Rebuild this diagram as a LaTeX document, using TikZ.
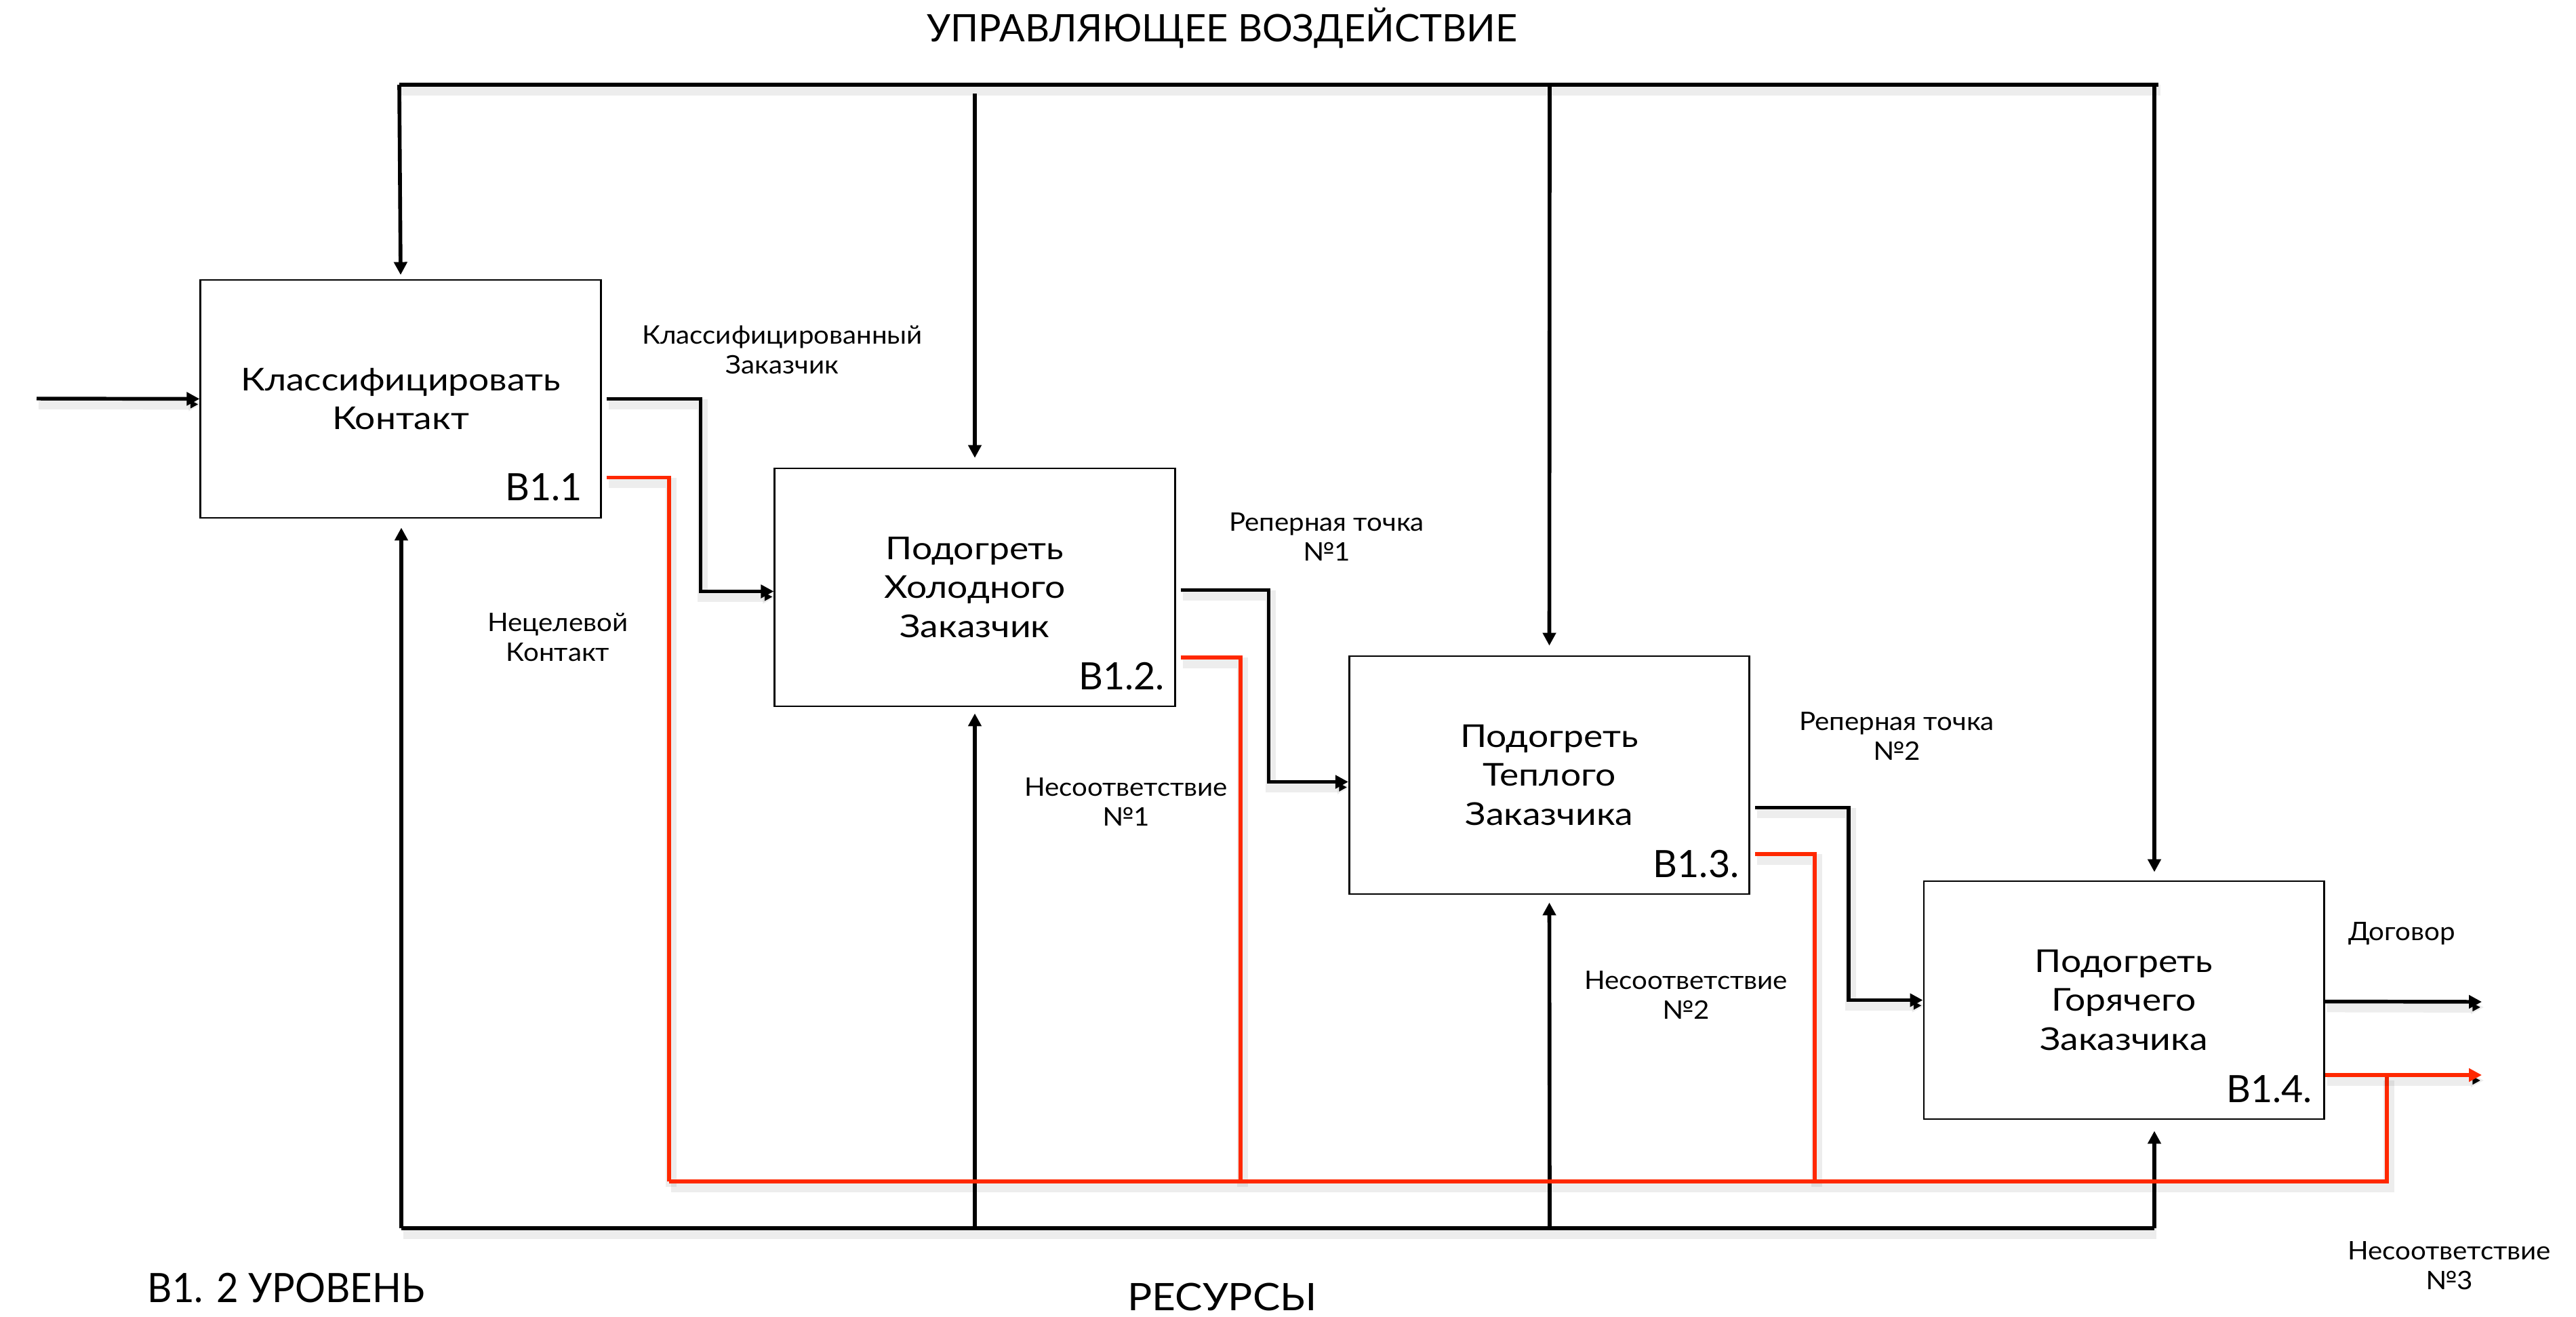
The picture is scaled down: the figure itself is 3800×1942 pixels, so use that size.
\documentclass[tikz,border=0pt]{standalone}
\usepackage{fontspec}
\setmainfont{Lato}[FakeStretch=1.15]
\newfontfamily\capfont{Lato}
\newfontfamily\lblfont{Lato}[FakeStretch=1.07]
\newfontfamily\levfont{Lato}[FakeStretch=0.94]
\newfontfamily\resfont{Lato}[FakeStretch=1.08]
\usetikzlibrary{arrows.meta,calc}
\definecolor{redline}{RGB}{255,40,0}
\begin{document}
\begin{tikzpicture}[x=0.01cm,y=-0.01cm,
  tip/.style={-{Triangle[length=0.19cm,width=0.19cm]}},
  shd/.style={preaction={draw=black,draw opacity=0.07,line width=4.5pt,transform canvas={yshift=-0.08cm,xshift=0.03cm}}},
  box/.style={draw,line width=0.77pt,minimum width=5.9cm,minimum height=3.51cm,inner sep=0pt,align=center,font=\fontsize{13.2}{16.4}\selectfont},
  num/.style={anchor=base east,inner sep=0pt,font=\capfont\fontsize{15.8}{18}\selectfont},
  flow/.style={line width=1.55pt,shd},
  redf/.style={draw=redline,line width=1.5pt,shd},
  ctrl/.style={line width=1.6pt},
  bus/.style={line width=1.55pt,shd},
  lbl/.style={align=center,inner sep=0pt,font=\lblfont\fontsize{10.7}{12.5}\selectfont},
  big/.style={inner sep=0pt,font=\capfont\fontsize{15.9}{18}\selectfont}]
\useasboundingbox (0,0) rectangle (3800,1942);
\fill[white] (0,0) rectangle (3800,1942);

% boxes
\node[box] (b1) at (591,588.5) {Классифицировать\\Контакт};
\node[box] (b2) at (1438,866.5) {Подогреть\\Холодного\\Заказчик};
\node[box] (b3) at (2285.5,1143.5) {Подогреть\\Теплого\\Заказчика};
\node[box] (b4) at (3133,1475.5) {Подогреть\\Горячего\\Заказчика};
\node[num] (n1) at ($(b1.south east)+(-28,-27)$) {B1.1};
\node[num] (n2) at ($(b2.south east)+(-16,-26)$) {B1.2.};
\node[num] (n3) at ($(b3.south east)+(-16,-26)$) {B1.3.};
\node[num] (n4) at ($(b4.south east)+(-18,-26)$) {B1.4.};

% texts
\node[big] (title) at (1803,41) {УПРАВЛЯЮЩЕЕ ВОЗДЕЙСТВИЕ};
\node[big,font=\levfont\fontsize{17}{19}\selectfont] (level) at (422,1900) {В1. 2 УРОВЕНЬ};
\node[big,font=\resfont\fontsize{15.9}{18}\selectfont] (res) at (1803,1913) {РЕСУРСЫ};
\node[lbl] (l1) at (1154,516) {Классифицированный\\Заказчик};
\node[lbl] (l2) at (823,940) {Нецелевой\\Контакт};
\node[lbl] (l3) at (1957,792) {Реперная точка\\№1};
\node[lbl] (l4) at (1661,1183) {Несоответствие\\№1};
\node[lbl] (l5) at (2798,1086) {Реперная точка\\№2};
\node[lbl] (l6) at (2487,1468) {Несоответствие\\№2};
\node[lbl] (l7) at (3543,1377) {Договор};
\node[lbl] (l8) at (3613,1867) {Несоответствие\\№3};

% coordinates
\coordinate (tL) at (589,125);
\coordinate (tR) at (3184,125);
\coordinate (bL) at (592,1812);
\coordinate (bR) at (3178,1812);
\coordinate (inS) at (54,588);
\coordinate (rbL) at (987,1743);
\coordinate (rbR) at (3521,1743);
\coordinate (outD) at (3661,1478);
\coordinate (outR) at (3661,1586);

% control
\draw[bus] (tL) -- (tR);
\draw[ctrl,tip] (tL) -- ($(b1.north)+(0,-6)$);
\draw[ctrl,tip] (1438,138) -- ($(b2.north)+(0,-14)$);
\draw[ctrl,tip] (2286,125) -- ($(b3.north)+(0,-14)$);
\draw[ctrl,tip] (3178,125) -- ($(b4.north)+(45,-12)$);

% mechanisms
\draw[bus] (bL) -- (bR);
\draw[ctrl,tip] (bL) -- ($(b1.south)+(1,13)$);
\draw[ctrl,tip] (1438,1812) -- ($(b2.south)+(0,9)$);
\draw[ctrl,tip] (2286,1812) -- ($(b3.south)+(0,11)$);
\draw[ctrl,tip] (bR) -- ($(b4.south)+(45,16)$);

% flows
\draw[flow,tip] (inS) -- (b1.west);
\draw[flow,tip] ($(b1.east)+(7,0)$) -- ++(139,0) |- ($(b2.west)+(0,6)$);
\draw[flow,tip] ($(b2.east)+(7,4)$) -- ++(130,0) |- ($(b3.west)+(0,10)$);
\draw[flow,tip] ($(b3.east)+(7,48)$) -- ++(138,0) |- (b4.west);
\draw[flow,tip] ($(b4.east)+(0,2)$) -- (outD);

% red
\draw[redf] ($(b1.east)+(7,116)$) -| (rbL);
\draw[redf] ($(b2.east)+(7,103.5)$) -| (1830,1743);
\draw[redf] ($(b3.east)+(7,116.5)$) -| (2677,1743);
\draw[redf] (rbL) -- (rbR) -- (3521,1586);
\draw[redf,tip] ($(b4.east)+(0,110.5)$) -- (outR);
\end{tikzpicture}
\end{document}
